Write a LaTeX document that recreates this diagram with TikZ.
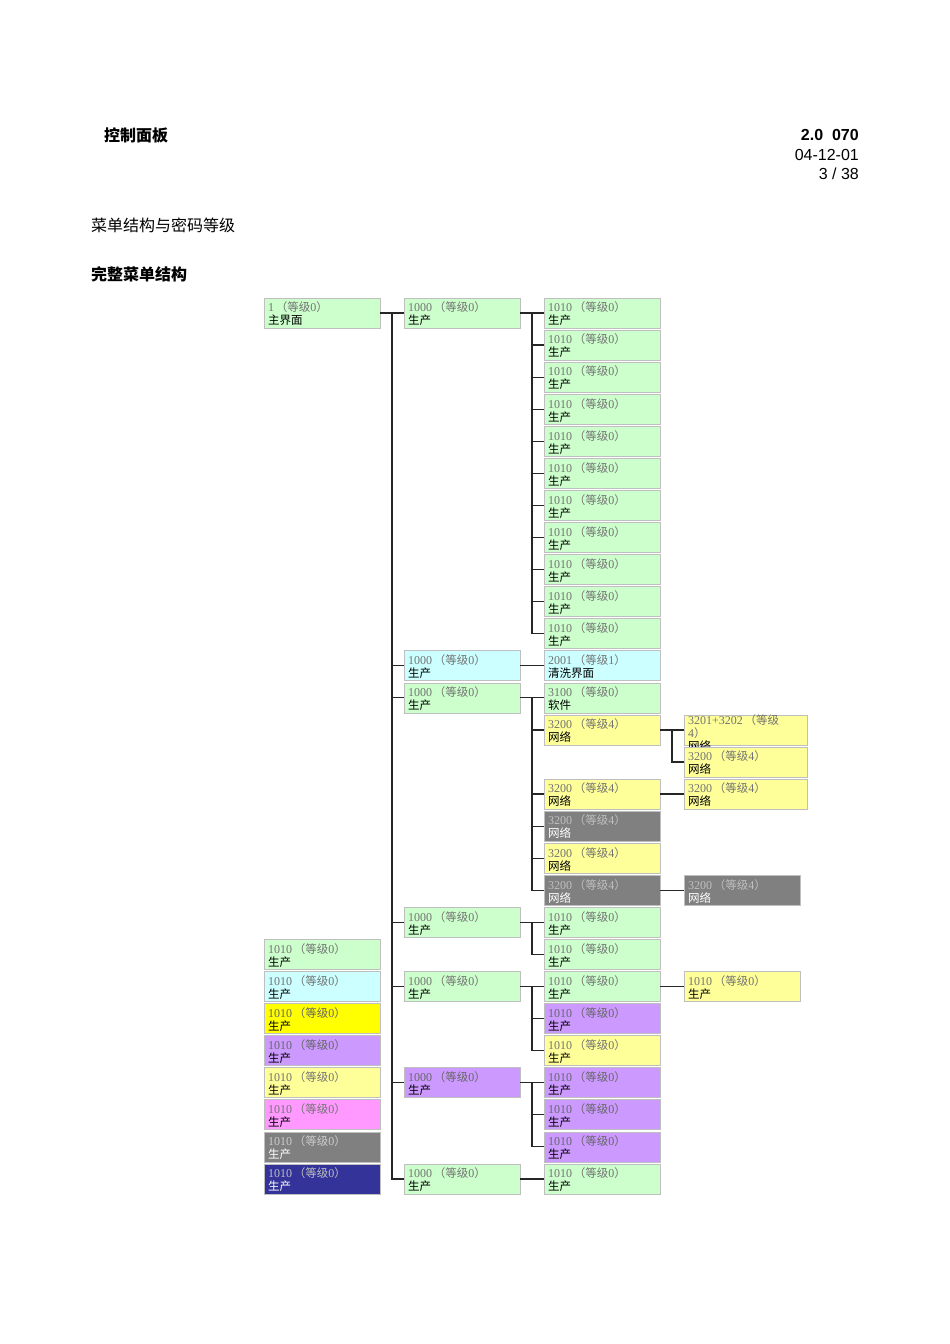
\documentclass[tikz,border=0pt]{standalone}
\usepackage{fontspec}
\setmainfont{Liberation Sans}
\newfontfamily\cjk{Noto Sans CJK SC}
\newfontfamily\numf{Liberation Serif}
\definecolor{cgreen}{HTML}{CCFFCC}
\definecolor{ccyan}{HTML}{CCFFFF}
\definecolor{cyel}{HTML}{FFFF00}
\definecolor{cpurp}{HTML}{CC99FF}
\definecolor{clyel}{HTML}{FFFF99}
\definecolor{cpink}{HTML}{FF99FF}
\definecolor{cgray}{HTML}{808080}
\definecolor{cnavy}{HTML}{333399}
\newcommand\mbx[7][116]{%
  \node[box,minimum width=#1pt,fill=#5,text=#6,anchor=north west] (#2) at (#3,{298+32.07*#4})
   {\parbox[t][22pt][t]{\dimexpr#1pt-8pt\relax}{\parindent=0pt\fontsize{11.5}{13}\selectfont\cjk #7}};}
\newcommand\nm[2]{{\numf\fontsize{12}{13}\selectfont #1}\,（等级{\numf\fontsize{12}{13}\selectfont #2}）}
\begin{document}
\begin{tikzpicture}[x=1pt,y=-1pt,
  box/.style={draw=black!25,line width=0.6pt,rectangle,inner xsep=4pt,inner ysep=4pt,minimum height=30pt,outer sep=0pt},
  conn/.style={line width=1.2pt,black!85},
  hd/.style={font=\fontsize{16}{19}\selectfont,inner sep=0}]
\useasboundingbox (0,0) rectangle (950,1344);
\fill[white] (0,0) rectangle (950,1344);
\node[hd,anchor=west,font=\fontsize{16}{19}\selectfont\bfseries\cjk] (t1) at (104,135) {控制面板};
\node[hd,anchor=east,font=\fontsize{16}{19}\selectfont\bfseries] (t2) at (859,135) {2.0\ \ 070};
\node[hd,anchor=east] (t3) at (859,155) {04-12-01};
\node[hd,anchor=east] (t4) at (859,174) {3 / 38};
\node[hd,anchor=west,font=\fontsize{16}{19}\selectfont\cjk] (t5) at (91,225) {菜单结构与密码等级};
\node[hd,anchor=west,font=\fontsize{16}{19}\selectfont\bfseries\cjk] (t6) at (91,274) {完整菜单结构};
% column A
\mbx{a0}{264}{0}{cgreen}{black}{\textcolor{black!55}{\nm{1}{0}}\\主界面}
\mbx{a20}{264}{20}{cgreen}{black}{\textcolor{black!55}{\nm{1010}{0}}\\生产}
\mbx{a21}{264}{21}{ccyan}{black}{\textcolor{black!55}{\nm{1010}{0}}\\生产}
\mbx{a22}{264}{22}{cyel}{black}{\textcolor{black!60}{\nm{1010}{0}}\\生产}
\mbx{a23}{264}{23}{cpurp}{black}{\textcolor{black!60}{\nm{1010}{0}}\\生产}
\mbx{a24}{264}{24}{clyel}{black}{\textcolor{black!55}{\nm{1010}{0}}\\生产}
\mbx{a25}{264}{25}{cpink}{black}{\textcolor{black!55}{\nm{1010}{0}}\\生产}
\mbx{a26}{264}{26}{cgray}{white}{\textcolor{black!20}{\nm{1010}{0}}\\生产}
\mbx{a27}{264}{27}{cnavy}{white}{\textcolor{black!25}{\nm{1010}{0}}\\生产}
% column B
\mbx{b0}{404}{0}{cgreen}{black}{\textcolor{black!55}{\nm{1000}{0}}\\生产}
\mbx{b11}{404}{11}{ccyan}{black}{\textcolor{black!55}{\nm{1000}{0}}\\生产}
\mbx{b12}{404}{12}{cgreen}{black}{\textcolor{black!55}{\nm{1000}{0}}\\生产}
\mbx{b19}{404}{19}{cgreen}{black}{\textcolor{black!55}{\nm{1000}{0}}\\生产}
\mbx{b21}{404}{21}{cgreen}{black}{\textcolor{black!55}{\nm{1000}{0}}\\生产}
\mbx{b24}{404}{24}{cpurp}{black}{\textcolor{black!60}{\nm{1000}{0}}\\生产}
\mbx{b27}{404}{27}{cgreen}{black}{\textcolor{black!55}{\nm{1000}{0}}\\生产}
% column C
\foreach \r in {0,...,10} {\mbx{c\r}{544}{\r}{cgreen}{black}{\textcolor{black!55}{\nm{1010}{0}}\\生产}}
\mbx{c11}{544}{11}{ccyan}{black}{\textcolor{black!55}{\nm{2001}{1}}\\清洗界面}
\mbx{c12}{544}{12}{cgreen}{black}{\textcolor{black!55}{\nm{3100}{0}}\\软件}
\mbx{c13}{544}{13}{clyel}{black}{\textcolor{black!55}{\nm{3200}{4}}\\网络}
\mbx{c15}{544}{15}{clyel}{black}{\textcolor{black!55}{\nm{3200}{4}}\\网络}
\mbx{c16}{544}{16}{cgray}{white}{\textcolor{black!25}{\nm{3200}{4}}\\网络}
\mbx{c17}{544}{17}{clyel}{black}{\textcolor{black!55}{\nm{3200}{4}}\\网络}
\mbx{c18}{544}{18}{cgray}{white}{\textcolor{black!25}{\nm{3200}{4}}\\网络}
\mbx{c19}{544}{19}{cgreen}{black}{\textcolor{black!55}{\nm{1010}{0}}\\生产}
\mbx{c20}{544}{20}{cgreen}{black}{\textcolor{black!55}{\nm{1010}{0}}\\生产}
\mbx{c21}{544}{21}{cgreen}{black}{\textcolor{black!55}{\nm{1010}{0}}\\生产}
\mbx{c22}{544}{22}{cpurp}{black}{\textcolor{black!60}{\nm{1010}{0}}\\生产}
\mbx{c23}{544}{23}{clyel}{black}{\textcolor{black!55}{\nm{1010}{0}}\\生产}
\mbx{c24}{544}{24}{cpurp}{black}{\textcolor{black!60}{\nm{1010}{0}}\\生产}
\mbx{c25}{544}{25}{cpurp}{black}{\textcolor{black!60}{\nm{1010}{0}}\\生产}
\mbx{c26}{544}{26}{cpurp}{black}{\textcolor{black!60}{\nm{1010}{0}}\\生产}
\mbx{c27}{544}{27}{cgreen}{black}{\textcolor{black!55}{\nm{1010}{0}}\\生产}
% column D
\mbx[123]{d13}{684}{13}{clyel}{black}{\vspace*{-4pt}\textcolor{black!55}{{\numf\fontsize{12}{13}\selectfont 3201+3202}\,（等级\\{\numf\fontsize{12}{13}\selectfont 4}）}\\网络}
\mbx[123]{d14}{684}{14}{clyel}{black}{\textcolor{black!55}{\nm{3200}{4}}\\网络}
\mbx[123]{d15}{684}{15}{clyel}{black}{\textcolor{black!55}{\nm{3200}{4}}\\网络}
\mbx{d18}{684}{18}{cgray}{white}{\textcolor{black!25}{\nm{3200}{4}}\\网络}
\mbx{d21}{684}{21}{clyel}{black}{\textcolor{black!55}{\nm{1010}{0}}\\生产}
% connectors
\foreach \c in {b0,b11,b12,b19,b21,b24,b27} \draw[conn] (a0.east) -- ++(12,0) |- (\c.west);
\foreach \c in {c0,c1,c2,c3,c4,c5,c6,c7,c8,c9,c10} \draw[conn] (b0.east) -- ++(12,0) |- (\c.west);
\draw[conn] (b11.east) -- (c11.west);
\foreach \c in {c12,c13,c15,c16,c17,c18} \draw[conn] (b12.east) -- ++(12,0) |- (\c.west);
\foreach \c in {c19,c20} \draw[conn] (b19.east) -- ++(12,0) |- (\c.west);
\foreach \c in {c21,c22,c23} \draw[conn] (b21.east) -- ++(12,0) |- (\c.west);
\foreach \c in {c24,c25,c26} \draw[conn] (b24.east) -- ++(12,0) |- (\c.west);
\draw[conn] (b27.east) -- (c27.west);
\foreach \c in {d13,d14} \draw[conn] (c13.east) -- ++(12,0) |- (\c.west);
\draw[conn] (c15.east) -- (d15.west);
\draw[conn] (c18.east) -- (d18.west);
\draw[conn] (c21.east) -- (d21.west);
\end{tikzpicture}
\end{document}
